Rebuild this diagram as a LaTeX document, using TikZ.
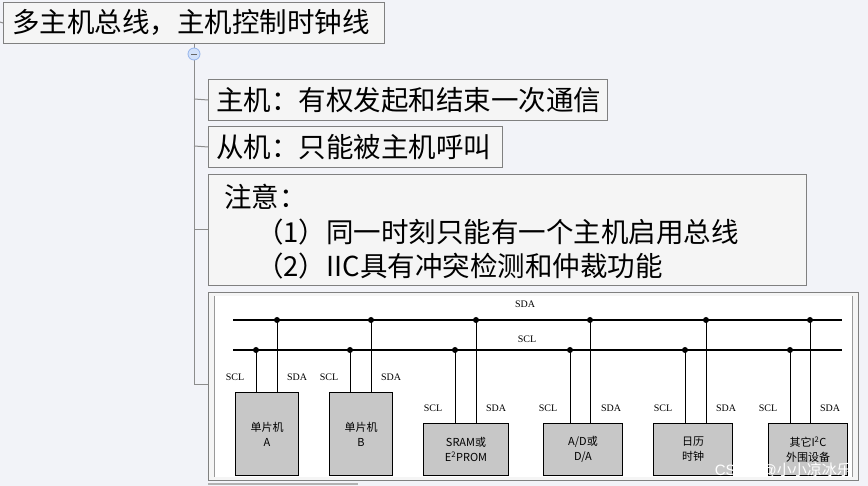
\documentclass[tikz,border=0pt]{standalone}
\usepackage{fontspec}
\setmainfont{Liberation Serif}
\newfontfamily\cjk{Noto Sans CJK SC}
\begin{document}
\begin{tikzpicture}[x=1pt,y=-1pt,
  topic/.style={draw=black!50,fill=white!96!black,line width=1pt,inner sep=0pt,anchor=north west},
  big/.style={font=\cjk\fontsize{27.5}{30}\selectfont,anchor=west,inner sep=0pt},
  conn/.style={draw=black!45,line width=1pt},
  bus/.style={line width=1.6pt},
  dev/.style={draw=black,fill=black!22,line width=1pt,anchor=north west,inner sep=0pt},
  lab/.style={font=\fontsize{10}{11}\selectfont},
  dtext/.style={font=\cjk\fontsize{11}{15}\selectfont,align=center},
  dot/.style={circle,fill=black,inner sep=0pt,minimum size=6pt}]
\fill[fill={rgb,255:red,242;green,243;blue,248}] (0,0) rectangle (868,486);
\useasboundingbox (0,0) rectangle (868,486);
% tree
\node[topic,minimum width=381pt,minimum height=41pt] (root) at (3,2) {};
\node[big] at (12,22) {多主机总线，主机控制时钟线};
\coordinate (rl) at (0,22);
\draw[conn] (rl) -- (root.west);
\node[topic,minimum width=399pt,minimum height=41pt] (b1) at (208,79) {};
\node[big] at (216,100) {主机：有权发起和结束一次通信};
\node[topic,minimum width=294pt,minimum height=41pt] (b2) at (208,126) {};
\node[big] at (216,147) {从机：只能被主机呼叫};
\node[topic,minimum width=598pt,minimum height=111pt] (b3) at (208,174) {};
\node[big] at (224,197) {注意：};
\node[big] at (256,232) {（1）同一时刻只能有一个主机启用总线};
\node[big] at (256,266) {（2）IIC具有冲突检测和仲裁功能};
\node[topic,minimum width=650pt,minimum height=188pt] (b4) at (208,292) {};
\fill[white] (215,296) rectangle (852,477);
\draw[black!40,line width=0.8pt] (214,296) -- (214,477);
\draw[black!40,line width=0.8pt] (852,296) -- (852,477);
\coordinate (cb) at (194,385);
\draw[conn] (root.south -| cb) -- (cb);
\draw[conn] (194,99) -- (b1.west);
\draw[conn] (194,146) -- (b2.west);
\draw[conn] (194,230) -- (b3.west |- 0,230);
\draw[conn] (cb) -- (b4.west |- cb);
\node[circle,draw={rgb,255:red,150;green,180;blue,235},fill={rgb,255:red,210;green,225;blue,250},line width=0.8pt,minimum size=12pt,inner sep=0pt] (col) at (194,54) {};
\draw[black!60,line width=0.6pt] (191,54) -- (197,54);
\draw[black!30,line width=1.2pt] (208,484) -- (358,484);
% bus
\coordinate (sdaL) at (233,320); \coordinate (sdaR) at (842,320);
\coordinate (sclL) at (233,350); \coordinate (sclR) at (842,350);
\draw[bus] (sdaL) -- (sdaR);
\draw[bus] (sclL) -- (sclR);
\node[lab] at (525,304) {SDA};
\node[lab] at (527,339) {SCL};
% devices
\foreach \n/\bx/\by/\w/\h/\scl/\sda/\t/\ly/\lsx/\ldx in {
  A/235/392/63/83/256/277/{单片机\\A}/377/235/297,
  B/329/392/63/83/350/371/{单片机\\B}/377/329/391,
  C/423/423/85/52/455/476/{SRAM或\\E\textsuperscript{2}PROM}/408/433/496,
  D/543/423/79/52/570/590/{A/D或\\D/A}/408/548/611,
  E/653/423/79/52/685/706/{日历\\时钟}/408/663/726,
  F/768/423/79/52/790/810/{其它I\textsuperscript{2}C\\外围设备}/408/768/830}{
  \node[dev,minimum width=\w pt,minimum height=\h pt] (\n) at (\bx,\by) {};
  \node[dtext] at (\n.center) {\t};
  \node[dot] (sc\n) at (\scl,350) {};
  \node[dot] (sd\n) at (\sda,320) {};
  \draw[line width=1pt] (sc\n.center) -- (sc\n.center |- \n.north);
  \draw[line width=1pt] (sd\n.center) -- (sd\n.center |- \n.north);
  \node[lab] at (\lsx,\ly) {SCL};
  \node[lab] at (\ldx,\ly) {SDA};
}
\node[font=\fontspec{Liberation Sans}\fontsize{15}{17}\selectfont,text=white,anchor=east,inner sep=0pt] (wm) at (852,470) {CSDN @{\cjk 小小凉冰乐}};
\end{tikzpicture}
\end{document}
